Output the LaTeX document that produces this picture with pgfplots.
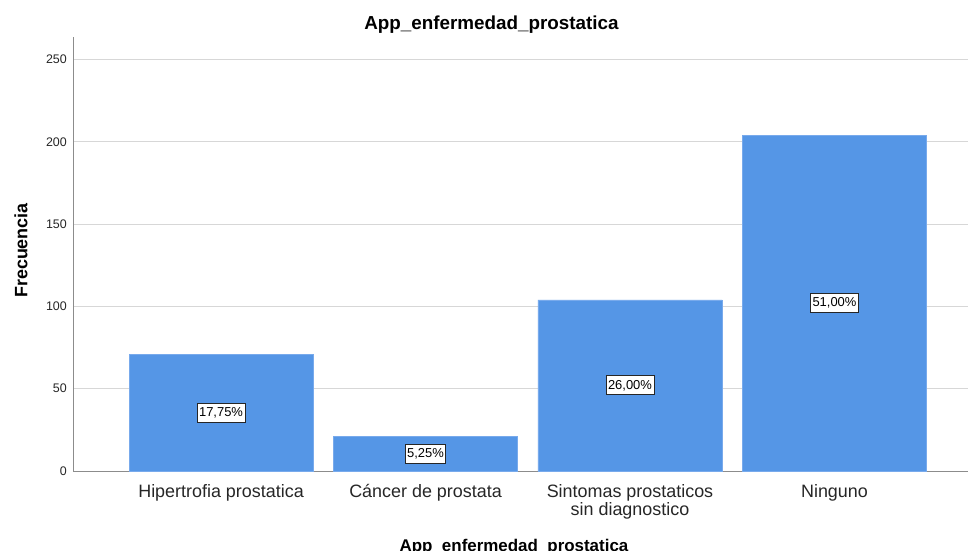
\documentclass[border=0pt]{standalone}
\usepackage{pgfplots}
\pgfplotsset{compat=1.18}
\usepackage{fontspec}
\setmainfont{Liberation Sans}
\definecolor{barblue}{RGB}{85,150,230}
\definecolor{baredge}{RGB}{120,170,236}
\definecolor{gridgray}{RGB}{215,215,215}
\definecolor{axisgray}{RGB}{140,140,140}
\begin{document}
\begin{tikzpicture}
\begin{axis}[
  name=ax, at={(0,0)}, anchor=south west,
  scale only axis, width=895bp, height=434bp,
  xmin=-0.724, xmax=3.653, ymin=0, ymax=263.7,
  axis x line*=bottom, axis y line*=left,
  axis line style={axisgray, line width=1bp, -},
  ytick={0,50,100,150,200,250},
  ymajorgrids, grid style={gridgray, line width=1bp},
  xtick={0,1,2,3},
  xticklabels={Hipertrofia prostatica, C\'ancer de prostata, {Sintomas prostaticos\\sin diagnostico}, Ninguno},
  xticklabel style={align=center, font=\fontsize{18}{18}\selectfont, color=black!85, inner sep=0pt, yshift=-13bp},
  yticklabel style={font=\fontsize{12.5}{14}\selectfont, color=black!85, inner sep=0pt, xshift=-6bp},
  /pgf/number format/assume math mode=true,
  major tick length=0pt,
  clip=false,
]
\addplot[ybar, bar width=0.9, fill=barblue, draw=baredge, line width=0.6bp]
  coordinates {(0,71) (1,21) (2,104) (3,204)};
\addplot[only marks, mark=none, point meta=explicit,
  nodes near coords={\pgfmathprintnumber[fixed, fixed zerofill, precision=2, use comma]{\pgfplotspointmeta}\%},
  nodes near coords style={anchor=center, fill=white, draw=black!85, line width=0.9bp, inner xsep=2bp, inner ysep=0pt, minimum height=19bp, font=\fontsize{13}{14}\selectfont, text=black}]
  coordinates {(0,35.5) [17.75] (1,10.5) [5.25] (2,52) [26.00] (3,102) [51.00]};
\end{axis}
\node[anchor=base, font=\bfseries\fontsize{18.9}{21}\selectfont] at (418.5bp,441.5bp) {App\_enfermedad\_prostatica};
\node[anchor=center, rotate=90, font=\bfseries\fontsize{18}{20}\selectfont] at (-52bp,220.5bp) {Frecuencia};
\node[anchor=base, font=\bfseries\fontsize{17}{20}\selectfont] at (441bp,-80bp) {App\_enfermedad\_prostatica};
\pgfresetboundingbox
\useasboundingbox (-73bp,-80bp) rectangle (895bp,471bp);
\end{tikzpicture}
\end{document}
